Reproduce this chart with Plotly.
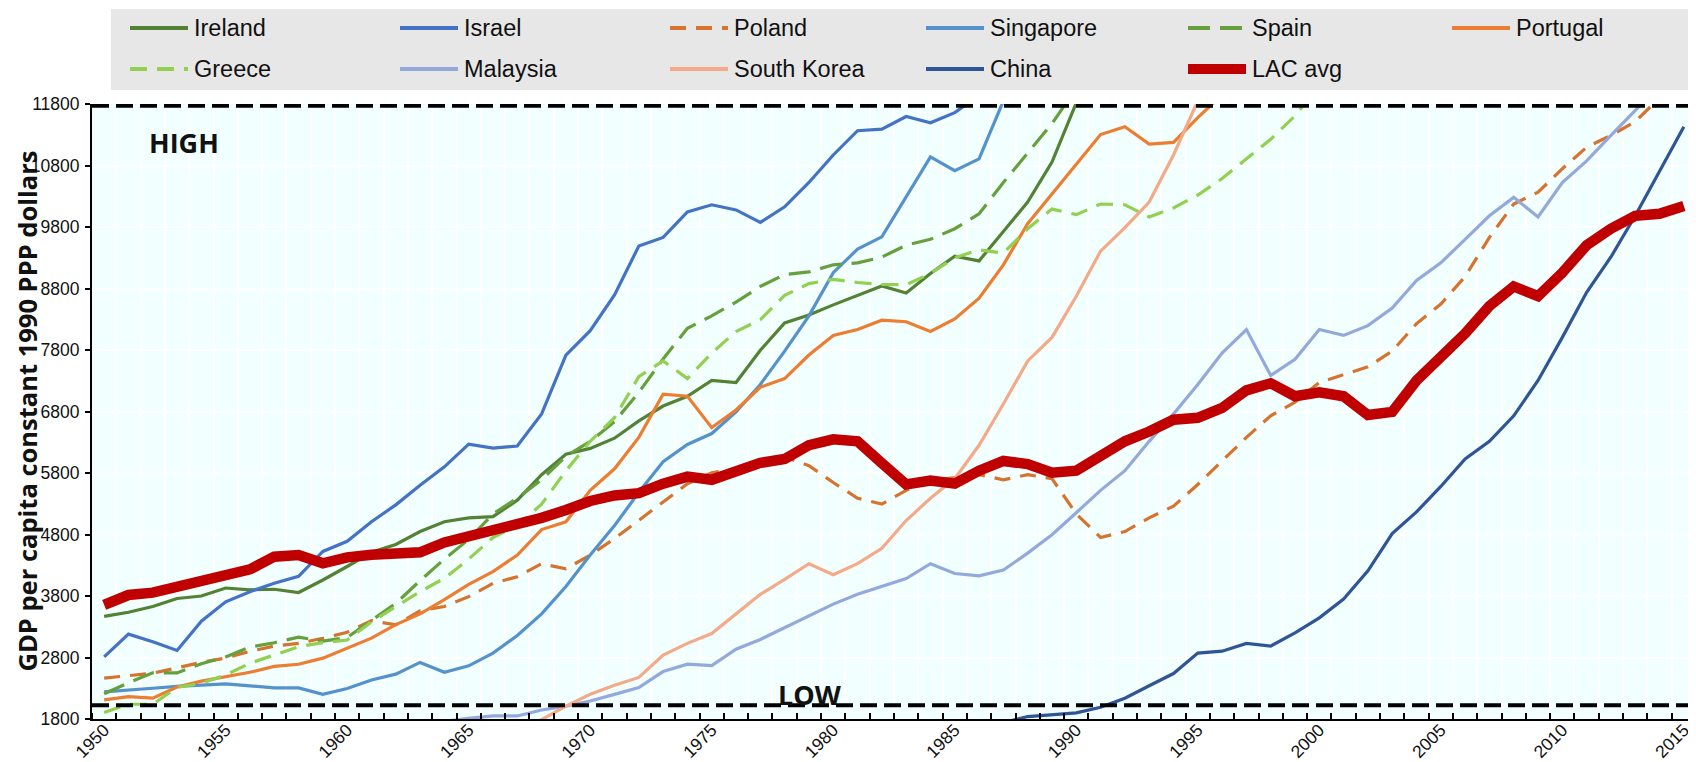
import plotly.graph_objects as go

years = list(range(1950, 2016))

ireland = [3470, 3535, 3630, 3760, 3800, 3930, 3900, 3910, 3857, 4060,
           4280, 4510, 4637, 4848, 5007, 5071, 5090, 5358, 5773, 6104,
           6200, 6366, 6647, 6889, 7048, 7304, 7272, 7795, 8241, 8369,
           8534, 8694, 8840, 8726, 9045, 9325, 9249, 9727, 10205, 10856,
           11818, 11887, 12200, 12500, 13200, 14400, 15400, 17000, 18400, 20300,
           22000, 22900, 23600, 24200, 25100, 26100, 27200, 27800, 26500, 24400,
           24100, 24400, 24300, 24500, 26700, 31000]
israel = [2810, 3180, 3055, 2915, 3390, 3705, 3870, 4006, 4120, 4525,
          4689, 5007, 5282, 5601, 5900, 6270, 6206, 6238, 6761, 7718,
          8114, 8694, 9491, 9631, 10046, 10161, 10078, 9874, 10129, 10524,
          10971, 11366, 11390, 11596, 11494, 11660, 11940, 12500, 12600, 12600,
          12970, 13100, 13500, 13700, 14300, 14800, 15200, 15300, 15500, 15700,
          16300, 16000, 15700, 15500, 15800, 16300, 16900, 17500, 18000, 18100,
          18800, 19400, 19700, 20100, 20500, 20700]
poland = [2465, 2499, 2545, 2632, 2722, 2790, 2900, 2985, 3030, 3112,
          3210, 3400, 3330, 3560, 3630, 3790, 4006, 4114, 4325, 4242,
          4465, 4733, 5027, 5326, 5626, 5805, 5868, 5932, 6060, 5919,
          5645, 5390, 5294, 5518, 5677, 5720, 5773, 5690, 5773, 5709,
          5135, 4752, 4848, 5071, 5262, 5613, 5996, 6379, 6730, 6953,
          7272, 7399, 7527, 7782, 8228, 8547, 8994, 9631, 10174, 10365,
          10748, 11098, 11290, 11513, 11900, 12150]
singapore = [2240, 2275, 2300, 2330, 2355, 2370, 2340, 2305, 2305, 2200,
             2297, 2435, 2530, 2720, 2560, 2665, 2871, 3158, 3509, 3955,
             4465, 4944, 5486, 5983, 6264, 6442, 6793, 7240, 7782, 8356,
             9058, 9440, 9640, 10301, 10939, 10716, 10907, 11850, 12800, 13700,
             14220, 14950, 15400, 16400, 17500, 18300, 19000, 20000, 19300, 20300,
             21900, 21000, 21600, 22300, 24000, 25300, 26400, 27700, 27800, 27000,
             30500, 31800, 32300, 33000, 33500, 34000]
spain = [2210, 2390, 2550, 2550, 2700, 2810, 2970, 3040, 3130, 3065,
         3125, 3405, 3680, 4050, 4400, 4720, 5135, 5390, 5690, 6073,
         6315, 6634, 7112, 7654, 8152, 8356, 8579, 8834, 9026, 9070,
         9185, 9217, 9310, 9504, 9600, 9772, 10014, 10524, 11003, 11481,
         12055, 12300, 12350, 12170, 12400, 12700, 13000, 13450, 13950, 14500,
         15200, 15500, 15700, 15900, 16100, 16400, 16800, 17100, 17000, 16300,
         16200, 16000, 15600, 15500, 15700, 16200]
portugal = [2110, 2163, 2140, 2320, 2415, 2490, 2560, 2655, 2690, 2790,
            2955, 3115, 3335, 3510, 3740, 3990, 4197, 4465, 4880, 5007,
            5518, 5868, 6379, 7080, 7048, 6538, 6825, 7195, 7335, 7718,
            8037, 8133, 8285, 8260, 8101, 8305, 8643, 9185, 9855, 10333,
            10831, 11303, 11430, 11149, 11175, 11577, 11950, 12400, 12900, 13300,
            13700, 13900, 13900, 13700, 13900, 13900, 14100, 14400, 14400, 13900,
            14100, 13900, 13500, 13400, 13600, 13800]
greece = [1905, 2040, 2040, 2315, 2380, 2515, 2706, 2841, 2976, 3041,
          3085, 3382, 3626, 3870, 4088, 4400, 4752, 4944, 5294, 5836,
          6315, 6698, 7367, 7622, 7335, 7750, 8101, 8292, 8688, 8879,
          8949, 8898, 8866, 8860, 9045, 9300, 9428, 9376, 9772, 10091,
          10001, 10174, 10161, 9963, 10110, 10320, 10588, 10907, 11226, 11609,
          12100, 12600, 13000, 13800, 14400, 14700, 15500, 15900, 15800, 15200,
          14500, 13300, 12400, 12200, 12300, 12300]
malaysia = [1559, 1540, 1520, 1480, 1470, 1460, 1490, 1470, 1460, 1510,
            1530, 1580, 1620, 1680, 1760, 1810, 1850, 1850, 1946, 2010,
            2093, 2201, 2310, 2571, 2692, 2667, 2935, 3094, 3286, 3477,
            3668, 3828, 3955, 4083, 4325, 4166, 4127, 4223, 4497, 4797,
            5154, 5518, 5837, 6315, 6761, 7240, 7750, 8133, 7386, 7650,
            8133, 8037, 8196, 8483, 8930, 9217, 9600, 9982, 10282, 9963,
            10524, 10875, 11290, 11700, 12100, 12400]
south_korea = [854, 800, 840, 1000, 1050, 1080, 1050, 1110, 1140, 1150,
               1226, 1250, 1270, 1340, 1410, 1440, 1560, 1630, 1790, 2010,
               2201, 2348, 2476, 2839, 3030, 3190, 3509, 3828, 4070, 4325,
               4146, 4325, 4575, 5027, 5390, 5709, 6251, 6921, 7622, 8005,
               8675, 9408, 9791, 10205, 10971, 11850, 12600, 13200, 12400, 13600,
               14350, 14900, 15900, 16400, 17100, 17700, 18500, 19300, 19700, 19700,
               20800, 21500, 21900, 22400, 23000, 23600]
china = [448, 491, 538, 552, 556, 575, 619, 637, 693, 697,
         662, 553, 550, 590, 645, 706, 753, 715, 678, 722,
         778, 792, 794, 839, 836, 874, 852, 895, 979, 1040,
         1067, 1103, 1192, 1265, 1396, 1522, 1597, 1740, 1840, 1865,
         1900, 1990, 2137, 2341, 2539, 2871, 2903, 3030, 2986, 3200,
         3445, 3751, 4210, 4816, 5167, 5581, 6028, 6315, 6730, 7304,
         8005, 8739, 9313, 9982, 10716, 11430]
lac_avg = [3654, 3816, 3854, 3941, 4032, 4157, 4233, 4439, 4467, 4332,
           4429, 4470, 4480, 4510, 4670, 4770, 4860, 4944, 5071, 5199,
           5345, 5435, 5473, 5626, 5741, 5690, 5837, 5964, 6028, 6251,
           6347, 6315, 5960, 5613, 5677, 5626, 5837, 5996, 5945, 5805,
           5837, 6079, 6315, 6474, 6666, 6698, 6857, 7144, 7259, 7048,
           7112, 7048, 6742, 6793, 7304, 7686, 8069, 8515, 8834, 8675,
           9057, 9504, 9772, 9982, 10014, 10142]

high_level = 11770
low_level = 2025
y_ticks = [1800, 2800, 3800, 4800, 5800, 6800, 7800, 8800, 9800, 10800, 11800]
x_label_years = [1950, 1955, 1960, 1965, 1970, 1975, 1980, 1985, 1990, 1995, 2000, 2005, 2010, 2015]

series = [
    ("Ireland", ireland, "#548235", "solid", 3.2),
    ("Israel", israel, "#4472C4", "solid", 3.2),
    ("Poland", poland, "#D6732E", "16px,10px", 3.2),
    ("Singapore", singapore, "#5592CC", "solid", 3.2),
    ("Spain", spain, "#65A03C", "22px,10px", 3.2),
    ("Portugal", portugal, "#ED7D31", "solid", 3.2),
    ("Greece", greece, "#92D050", "17px,10px", 3.2),
    ("Malaysia", malaysia, "#94A9DB", "solid", 3.2),
    ("South Korea", south_korea, "#F4A988", "solid", 3.2),
    ("China", china, "#2F5597", "solid", 3.2),
    ("LAC avg", lac_avg, "#C00000", "solid", 10.5),
]

# page body adds an 8px offset; figure is sized so the whole page is 1696x762
OFF = 8
W, H = 1688, 754
ML, MR, MT, MB = 84, 0, 96, 43
PW = W - ML - MR
PH = H - MT - MB


def px(x):
    return (x - OFF - ML) / PW


def py(y):
    return (H - MB - (y - OFF)) / PH


NARROW = "Liberation Sans Narrow, Arial Narrow, Liberation Sans, Arial, sans-serif"
BOLD = "Open Sans, Noto Sans, DejaVu Sans, sans-serif"

fig = go.Figure()
for name, vals, color, dash, width in series:
    fig.add_trace(go.Scatter(
        x=years, y=vals, name=name, mode="lines",
        line=dict(color=color, width=width, dash=dash),
        showlegend=False,
    ))

shapes = []
for lvl in (high_level, low_level):
    shapes.append(dict(type="line", xref="x domain", yref="y", x0=0, x1=1, y0=lvl, y1=lvl,
                       line=dict(color="black", width=4, dash="17px,7px"), layer="above"))

# legend box
shapes.append(dict(type="rect", xref="paper", yref="paper", x0=px(111), x1=px(1692),
                   y0=py(90), y1=py(9), fillcolor="#E7E7E7", line=dict(width=0), layer="below"))

annotations = []
col_x = [130, 400, 670, 926, 1188, 1452]
row_y = [28, 69]
for i, (name, vals, color, dash, width) in enumerate(series):
    r, c = divmod(i, 6)
    x0 = col_x[c]
    y0 = row_y[r]
    lw = 10 if width > 5 else 4
    shapes.append(dict(type="line", xref="paper", yref="paper", x0=px(x0), x1=px(x0 + 58),
                       y0=py(y0), y1=py(y0), line=dict(color=color, width=lw, dash=dash)))
    annotations.append(dict(x=px(x0 + 62), y=py(y0), xref="paper", yref="paper", text=name,
                            showarrow=False, xanchor="left", yanchor="middle",
                            font=dict(family=NARROW, size=23.5, color="#111111")))

annotations.append(dict(x=px(184), y=py(143), xref="paper", yref="paper", text="<b>HIGH</b>",
                        showarrow=False, xanchor="center", yanchor="middle",
                        font=dict(family=BOLD, size=27, color="#111111")))
annotations.append(dict(x=px(810), y=py(694), xref="paper", yref="paper", text="<b>LOW</b>",
                        showarrow=False, xanchor="center", yanchor="middle",
                        font=dict(family=BOLD, size=27, color="#111111")))
annotations.append(dict(x=px(26), y=0.5, xref="paper", yref="paper",
                        text="<b>GDP per capita constant 1990 PPP dollars</b>",
                        textangle=-90, showarrow=False, xanchor="center", yanchor="middle",
                        font=dict(family=BOLD, size=25.5, color="#111111")))

fig.update_layout(
    width=W, height=H,
    margin=dict(l=ML, r=MR, t=MT, b=MB, autoexpand=False),
    paper_bgcolor="white", plot_bgcolor="#F1FFFF",
    shapes=shapes, annotations=annotations, showlegend=False,
)
fig.update_xaxes(
    range=[1949.5, 2015.5], automargin=False,
    tickvals=x_label_years, ticktext=[str(v) for v in x_label_years],
    tickangle=-45, ticks="", showgrid=False, zeroline=False,
    ticklabelstandoff=-8,
    tickfont=dict(family=NARROW, size=17.5, color="#111111"),
    showline=True, linecolor="black", linewidth=2,
    minor=dict(tick0=1949.5, dtick=1, ticks="inside", ticklen=6, tickwidth=1.5,
               tickcolor="black", showgrid=True, gridcolor="white", gridwidth=1.5),
)
fig.update_yaxes(
    range=[1800, 11800], automargin=False,
    tickvals=y_ticks, ticktext=[str(v) for v in y_ticks],
    ticks="outside", ticklen=5, tickwidth=1.5, tickcolor="black",
    ticklabelstandoff=2,
    tickfont=dict(family=NARROW, size=17.5, color="#111111"),
    showgrid=True, gridcolor="white", gridwidth=2, zeroline=False,
    showline=True, linecolor="black", linewidth=2,
)

fig.write_html("out.html")
